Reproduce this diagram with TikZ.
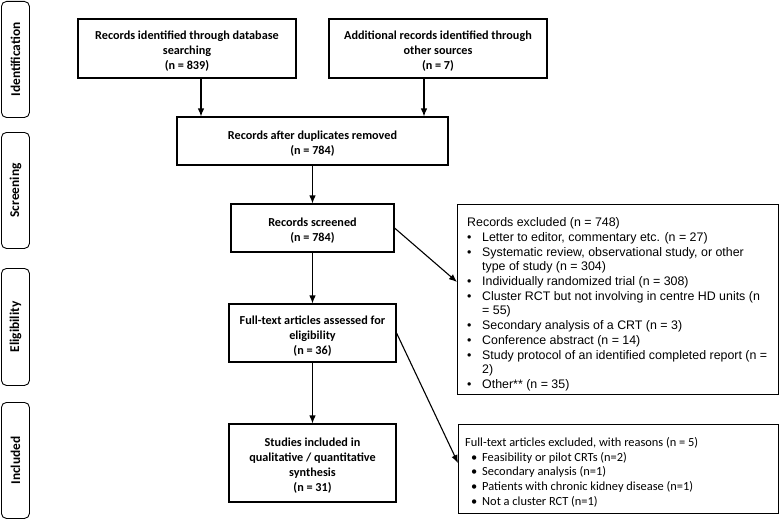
\documentclass[tikz,border=0pt]{standalone}
\usepackage{fontspec}
\setmainfont{Carlito}
\newfontfamily\arialf{Liberation Sans}
\usetikzlibrary{arrows.meta}
\newcommand{\pbul}[2]{\makebox[#1][l]{\textbullet}#2}
\begin{document}
\begin{tikzpicture}[x=1pt,y=-1pt,
  box/.style={draw, line width=1.1pt, rectangle, inner sep=0pt},
  ctext/.style={align=center, yshift=-3pt, font=\bfseries\fontsize{12.2}{15}\selectfont},
  side/.style={draw, line width=0.9pt, rounded corners=5pt, minimum width=28pt, inner sep=0pt},
  sidetext/.style={rotate=90, font=\bfseries\fontsize{13.4}{15}\selectfont},
  arr/.style={line width=1.1pt, -{Latex[length=8pt,width=6.5pt]}},
  listtext/.style={anchor=north west, inner sep=0pt, align=left}
]
\useasboundingbox (0,0) rectangle (779,519);

% side labels
\node[side, minimum height=116pt, anchor=north west] (s1) at (1,1) {};
\node[sidetext] (l1) at (s1.center) {Identification};
\node[side, minimum height=116pt, anchor=north west] (s2) at (1,132) {};
\node[sidetext] (l2) at (s2.center) {Screening};
\node[side, minimum height=117pt, anchor=north west] (s3) at (1,268) {};
\node[sidetext] (l3) at (s3.center) {Eligibility};
\node[side, minimum height=116pt, anchor=north west] (s4) at (1,402) {};
\node[sidetext] (l4) at (s4.center) {Included};

% main boxes
\node[box, minimum width=218pt, minimum height=59pt] (b1) at (187,48.5) {};
\node[ctext] (b1t) at (b1.center) {Records identified through database\\searching\\(n = 839)};
\node[box, minimum width=218pt, minimum height=59pt] (b2) at (438,48.5) {};
\node[ctext] (b2t) at (b2.center) {Additional records identified through\\other sources\\(n = 7)};
\node[box, minimum width=271pt, minimum height=48pt] (b3) at (312.5,141) {};
\node[ctext] (b3t) at (b3.center) {Records after duplicates removed\\(n = 784)};
\node[box, minimum width=163pt, minimum height=48pt] (b4) at (312.5,228) {};
\node[ctext] (b4t) at (b4.center) {Records screened\\(n = 784)};
\node[box, minimum width=167pt, minimum height=58pt] (b5) at (312.5,333) {};
\node[ctext] (b5t) at (b5.center) {Full-text articles assessed for\\eligibility\\(n = 36)};
\node[box, minimum width=167pt, minimum height=78pt] (b6) at (312.5,463) {};
\node[ctext] (b6t) at (b6.center) {Studies included in\\qualitative / quantitative\\synthesis\\(n = 31)};

% exclusion boxes
\node[box, minimum width=321pt, minimum height=190pt, anchor=north west] (b7) at (457,204) {};
\node[listtext, font=\arialf\fontsize{12.4}{14.7}\selectfont] (t7) at (467,217.6)
  {Records excluded (n = 748)\\
   \pbul{15pt}{Letter to editor, commentary etc. (n = 27)}\\
   \pbul{15pt}{Systematic review, observational study, or other}\\
   \hspace*{15pt}type of study (n = 304)\\
   \pbul{15pt}{Individually randomized trial (n = 308)}\\
   \pbul{15pt}{Cluster RCT but not involving in centre HD units (n}\\
   \hspace*{15pt}= 55)\\
   \pbul{15pt}{Secondary analysis of a CRT (n = 3)}\\
   \pbul{15pt}{Conference abstract (n = 14)}\\
   \pbul{15pt}{Study protocol of an identified completed report (n =}\\
   \hspace*{15pt}2)\\
   \pbul{15pt}{Other** (n = 35)}};

\node[box, minimum width=320pt, minimum height=89pt, anchor=north west] (b8) at (458,424) {};
\node[listtext, font=\fontsize{12.4}{14.6}\selectfont] (t8) at (465,437.4)
  {Full-text articles excluded, with reasons (n = 5)\\
   \hspace*{6pt}\pbul{11pt}{Feasibility or pilot CRTs (n=2)}\\
   \hspace*{6pt}\pbul{11pt}{Secondary analysis (n=1)}\\
   \hspace*{6pt}\pbul{11pt}{Patients with chronic kidney disease (n=1)}\\
   \hspace*{6pt}\pbul{11pt}{Not a cluster RCT (n=1)}};

% connectors
\coordinate (c1) at (201,0);
\coordinate (c2) at (424,0);
\draw[arr] (b1.south -| c1) -- (b3.north -| c1);
\draw[arr] (b2.south -| c2) -- (b3.north -| c2);
\draw[arr] (b3.south) -- (b4.north);
\draw[arr] (b4.south) -- (b5.north);
\draw[arr] (b5.south) -- (b6.north);
\coordinate (t1) at (0,282);
\coordinate (t2) at (0,463);
\draw[arr] (b4.east) -- (b7.west |- t1);
\draw[arr] (b5.east) -- (b8.west |- t2);
\end{tikzpicture}
\end{document}
